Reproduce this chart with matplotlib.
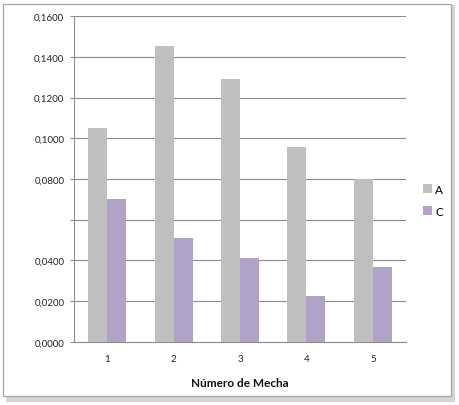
import matplotlib
matplotlib.use("Agg")
import matplotlib.pyplot as plt
from matplotlib.patches import Rectangle
import numpy as np

categories = ["1", "2", "3", "4", "5"]
series_A = [0.1051, 0.1454, 0.1290, 0.0956, 0.0799]
series_C = [0.0700, 0.0510, 0.0412, 0.0223, 0.0366]
ytick_values = [0.0, 0.02, 0.04, 0.06, 0.08, 0.10, 0.12, 0.14, 0.16]
ytick_labels = ["0,0000", "0,0200", "0,0400", "", "0,0800", "0,1000", "0,1200", "0,1400", "0,1600"]
xlabel = "Número de Mecha"

plt.rcParams['font.family'] = ['Lato', 'DejaVu Sans']

W, H = 460, 406
fig = plt.figure(figsize=(W / 100, H / 100), dpi=100)

# chart frame with shadow
fig.patches.append(Rectangle((6 / W, 1 - 403 / H), 449 / W, 397 / H, transform=fig.transFigure,
                             facecolor="#d4d4d4", edgecolor="none", zorder=0))
fig.patches.append(Rectangle((3 / W, 1 - 397 / H), 448 / W, 392 / H, transform=fig.transFigure,
                             facecolor="white", edgecolor="#a6a6a6", linewidth=0.9, zorder=1))

ax = fig.add_axes([74 / W, 1 - 342.7 / H, (406 - 74) / W, (342.7 - 17.3) / H])
ax.set_zorder(2)
ax.patch.set_alpha(0)

x = np.arange(len(categories))
bw = 0.286
ax.bar(x - bw / 2, series_A, width=bw, color="#bfbfbf", label="A", zorder=3)
ax.bar(x + bw / 2, series_C, width=bw, color="#b3a2c7", label="C", zorder=3)

ax.set_xlim(-0.5, len(categories) - 0.5)
ax.set_ylim(0, 0.16)
ax.set_yticks(ytick_values)
ax.set_yticklabels(ytick_labels)
ax.set_xticks(x)
ax.set_xticklabels(categories)
ax.yaxis.grid(True, color="#8c8c8c", linewidth=0.8, zorder=0)
ax.set_axisbelow(True)

for s in ["top", "right"]:
    ax.spines[s].set_visible(False)
ax.spines["left"].set_color("#8c8c8c")
ax.spines["bottom"].set_color("#8c8c8c")
ax.spines["left"].set_linewidth(0.8)
ax.spines["bottom"].set_linewidth(0.8)
ax.tick_params(axis="y", length=3, color="#8c8c8c", labelsize=7, pad=4, labelcolor="#222222")
ax.tick_params(axis="x", length=0, labelsize=7, pad=9, labelcolor="#222222")
ax.set_xlabel(xlabel, fontsize=8.5, fontweight="bold", labelpad=10, color="#111111")

leg = ax.legend(loc="center left", bbox_to_anchor=(1.02, 0.435), frameon=False, fontsize=8.5,
                handlelength=0.7, handleheight=0.7, handletextpad=0.3, labelspacing=0.95)

fig.savefig("out.png", dpi=100)
